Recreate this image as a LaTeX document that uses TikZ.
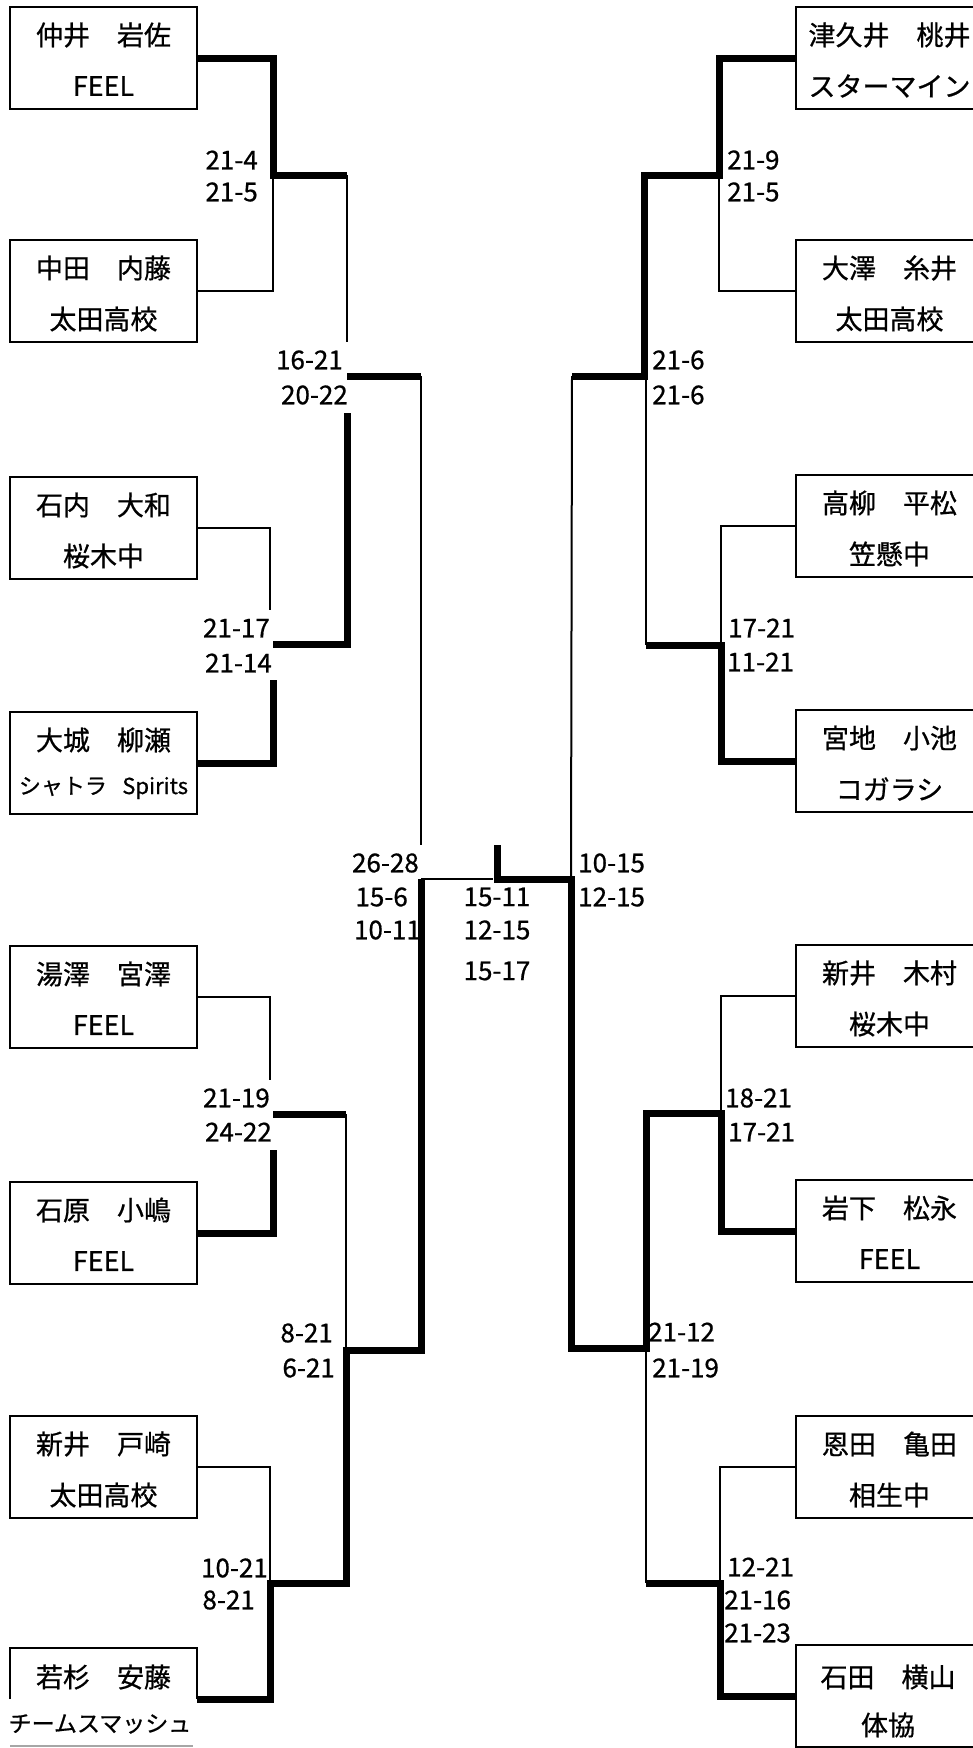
\documentclass[tikz,border=0pt]{standalone}
\usepackage{fontspec}
\setmainfont{Noto Sans CJK JP}[FakeBold=0.7]
\newcommand\teambox[5]{%
  \node[teamrect, anchor=north west] (#1) at (#2,#3) {};
  \node[nametext] (#1n) at ([yshift=-28pt]#1.north) {#4};
  \node[nametext] (#1c) at ([yshift=-79pt]#1.north) {#5};}
\begin{document}
\begin{tikzpicture}[x=1pt,y=-1pt,
  teamrect/.style={draw, line width=2.5pt, minimum width=187pt, minimum height=102pt, inner sep=0pt, outer sep=0pt},
  nametext/.style={inner sep=0pt, font=\fontsize{27}{27}\selectfont},
  smalltext/.style={inner sep=0pt, font=\fontsize{22}{22}\selectfont},
  score/.style={inner sep=0pt, font=\fontsize{26}{26}\selectfont},
  winline/.style={line width=7pt, line join=miter},
  loseline/.style={line width=2pt},
  boxline/.style={line width=2.5pt}]
\useasboundingbox (0,0) rectangle (973,1748);
\fill[white] (0,0) rectangle (973,1748);
\clip (0,0) rectangle (973,1748);

% ---------- left teams ----------
\teambox{L1}{10}{7}{仲井　岩佐}{FEEL}
\teambox{L2}{10}{240}{中田　内藤}{太田高校}
\teambox{L3}{10}{477}{石内　大和}{桜木中}
\node[teamrect, anchor=north west] (L4) at (10,712) {};
\node[nametext] (L4n) at ([yshift=-28pt]L4.north) {大城　柳瀬};
\node[smalltext] (L4c) at (103.5,788) {シャトラ\hspace{0.7em}Spirits};
\teambox{L5}{10}{946}{湯澤　宮澤}{FEEL}
\teambox{L6}{10}{1182}{石原　小嶋}{FEEL}
\teambox{L7}{10}{1416}{新井　戸崎}{太田高校}
\node[teamrect, draw=none, anchor=north west] (L8) at (10,1648) {};
\draw[boxline] (L8.west) |- (L8.north) -| (L8.east);
\node[nametext] (L8n) at (103.5,1677) {若杉　安藤};
\node[inner sep=0pt, font=\fontsize{23}{23}\selectfont] (L8c) at (100,1724) {チームスマッシュ};
\draw[line width=2pt, gray!70] (10,1746) -- (193,1746);

% ---------- right teams ----------
\teambox{R1}{796}{7}{津久井　桃井}{スターマイン}
\teambox{R2}{796}{240}{大澤　糸井}{太田高校}
\teambox{R3}{796}{475}{高柳　平松}{笠懸中}
\teambox{R4}{796}{710}{宮地　小池}{コガラシ}
\teambox{R5}{796}{945}{新井　木村}{桜木中}
\teambox{R6}{796}{1180}{岩下　松永}{FEEL}
\teambox{R7}{796}{1416}{恩田　亀田}{相生中}
\node[teamrect, anchor=north west] (R8) at (796,1645) {};
\node[nametext] (R8n) at (888,1677) {石田　横山};
\node[nametext] (R8c) at (888,1725) {体協};

% ---------- scores ----------
\node[score, anchor=east] (s1) at (258,160) {21-4};
\node[score, anchor=east] (s2) at (258,192) {21-5};
\node[score, anchor=east] (s3) at (343,360) {16-21};
\node[score, anchor=east] (s4) at (348,395) {20-22};
\node[score, anchor=east] (s5) at (270,628) {21-17};
\node[score, anchor=east] (s6) at (272,663) {21-14};
\node[score, anchor=east] (s7) at (270,1098) {21-19};
\node[score, anchor=east] (s8) at (272,1132) {24-22};
\node[score, anchor=east] (s9) at (333,1333) {8-21};
\node[score, anchor=east] (s10) at (335,1368) {6-21};
\node[score, anchor=east] (s11) at (268,1568) {10-21};
\node[score, anchor=east] (s12) at (255,1600) {8-21};
\node[score, anchor=east] (f1) at (419,863) {26-28};
\node[score, anchor=east] (f2) at (408,897) {15-6};
\node[score, anchor=east] (f3) at (421,930) {10-11};
\node[score] (f4) at (497,897) {15-11};
\node[score] (f5) at (497,930) {12-15};
\node[score] (f6) at (497,971) {15-17};
\node[score, anchor=west] (f7) at (578,863) {10-15};
\node[score, anchor=west] (f8) at (578,897) {12-15};
\node[score, anchor=west] (r1) at (727,160) {21-9};
\node[score, anchor=west] (r2) at (727,192) {21-5};
\node[score, anchor=west] (r3) at (652,360) {21-6};
\node[score, anchor=west] (r4) at (652,395) {21-6};
\node[score, anchor=west] (r5) at (728,628) {17-21};
\node[score, anchor=west] (r6) at (727,662) {11-21};
\node[score, anchor=west] (r7) at (725,1098) {18-21};
\node[score, anchor=west] (r8) at (728,1132) {17-21};
\node[score, anchor=west] (r9) at (648,1332) {21-12};
\node[score, anchor=west] (r10) at (652,1368) {21-19};
\node[score, anchor=west] (r11) at (727,1567) {12-21};
\node[score, anchor=west] (r12) at (724,1600) {21-16};
\node[score, anchor=west] (r13) at (724,1633) {21-23};

% ---------- junctions ----------
\coordinate (jA) at (273,175);   \coordinate (jAo) at (347,175);
\coordinate (jB) at (273,644);   \coordinate (jBo) at (347,644);
\coordinate (jC) at (347,376);   \coordinate (jCo) at (421,376);
\coordinate (jD) at (273,1114);  \coordinate (jDo) at (346,1114);
\coordinate (jE) at (270,1583);  \coordinate (jEo) at (346,1583);
\coordinate (jF) at (346,1350);  \coordinate (jFo) at (421,1350);
\coordinate (fl) at (421,879);   \coordinate (fm) at (497,879);
\coordinate (fr) at (571,879);   \coordinate (top) at (497,845);
\coordinate (kA) at (719,175);   \coordinate (kAo) at (644,175);
\coordinate (kB) at (721,645);   \coordinate (kBo) at (646,645);
\coordinate (kC) at (644,376);   \coordinate (kCo) at (572,376);
\coordinate (kD) at (721,1113);  \coordinate (kDo) at (646,1113);
\coordinate (kE) at (720,1583);  \coordinate (kEo) at (646,1583);
\coordinate (kF) at (646,1348);  \coordinate (kFo) at (571,1348);

% ---------- left connectors ----------
\draw[loseline] (L2.east) -| (jA);
\draw[winline] (L1.east) -| (jA) -- (jAo);
\draw[loseline] (jAo) -- (347,342);
\draw[loseline] (L3.east) -| (270,610);
\draw[winline] (L4.east) -| (273,680);
\draw[winline] (jB) -- (jBo) -- (347,413);
\draw[winline] (jC) -- (jCo);
\draw[loseline] (jCo) -- (421,845);
\draw[loseline] (L5.east) -| (270,1080);
\draw[winline] (L6.east) -| (273,1150);
\draw[winline] (jD) -- (jDo);
\draw[loseline] (jDo) -- (jF);
\draw[loseline] (L7.east) -| (jE);
\draw[winline] (L8.east) -| (jE) -- (jEo) -- (jF) -- (jFo) -- (fl);

% ---------- final ----------
\draw[loseline] (fl) -- (493,879);

% ---------- right connectors ----------
\draw[loseline] (R2.west) -| (kA);
\draw[winline] (R1.west) -| (kA) -- (kAo) -- (kC) -- (kCo);
\draw[loseline] (kCo) -- (fr);
\draw[loseline] (R3.west) -| (kB);
\draw[loseline] (646,376) -- (kBo);
\draw[winline] (R4.west) -| (kB) -- (kBo);
\draw[loseline] (R5.west) -| (kD);
\draw[loseline] (R7.west) -| (kE);
\draw[loseline] (kF) -- (kEo);
\draw[winline] (R8.west) -| (kE) -- (kEo);
\draw[winline] (R6.west) -| (kD) -- (kDo) -- (kF) -- (kFo) -- (fr) -- (fm) -- (top);
\end{tikzpicture}
\end{document}
